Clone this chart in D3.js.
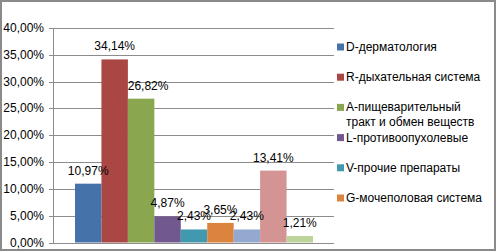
<!DOCTYPE html>
<html>
<head>
<meta charset="utf-8">
<script src="https://cdn.jsdelivr.net/npm/d3@7"></script>
<style>
  body { margin: 0; background: #fff; }
  text { font-family: "Liberation Sans", Arial, sans-serif; font-size: 12px; fill: #000; }
</style>
</head>
<body>
<div id="chart"></div>
<script>
// series (one category, nine series; legend only shows the first six)
const series = ['D', 'R', 'A', 'L', 'V', 'G', 'S7', 'S8', 'S9']
const values = [0.1097, 0.3414, 0.2682, 0.0487, 0.0243, 0.0365, 0.0243, 0.1341, 0.0121]
const colors = ['#4672aa', '#aa4644', '#8aa64f', '#71598f', '#4199b0', '#db843e', '#93a9cf', '#d39493', '#bcd39a']
const legendNames = [
  ['D-дерматология'],
  ['R-дыхательная система'],
  ['A-пищеварительный', 'тракт и обмен веществ'],
  ['L-противоопухолевые'],
  ['V-прочие препараты'],
  ['G-мочеполовая система']
]
const yTicks = [0, 0.05, 0.1, 0.15, 0.2, 0.25, 0.3, 0.35, 0.4]

const width = 497
const height = 252

const ru = d3.formatLocale({ decimal: ',', thousands: ' ', grouping: [3], currency: ['', ''] })
const pct = ru.format('.2%')

let svg = d3.select('#chart')
  .append('svg')
  .attr('width', width)
  .attr('height', height)

// outer frame
svg.append('rect')
  .attr('x', 1).attr('y', 1)
  .attr('width', width - 3).attr('height', height - 3)
  .attr('fill', '#fff')
  .attr('stroke', '#8a8a8a')
  .attr('stroke-width', 2)

const plotLeft = 53
const plotRight = 334

const y = d3.scaleLinear().domain([0, 0.4]).range([242.5, 28])
const x = d3.scaleBand().domain(series).range([75, 313])

// gridlines
svg.selectAll('.grid')
  .data(yTicks)
  .enter()
  .append('line')
  .attr('x1', plotLeft - 4)
  .attr('x2', plotRight)
  .attr('y1', d => Math.round(y(d)) + 0.5)
  .attr('y2', d => Math.round(y(d)) + 0.5)
  .attr('stroke', '#8c8c8c')
  .attr('stroke-width', 1)

// y axis line
svg.append('line')
  .attr('x1', plotLeft + 0.5).attr('x2', plotLeft + 0.5)
  .attr('y1', y(0.4)).attr('y2', y(0) + 0.5)
  .attr('stroke', '#8c8c8c')

svg.selectAll('.ylab')
  .data(yTicks)
  .enter()
  .append('text')
  .attr('x', 44)
  .attr('y', d => y(d) + 4)
  .attr('text-anchor', 'end')
  .text(d => pct(d))

// bars
svg.selectAll('.bar')
  .data(values)
  .enter()
  .append('rect')
  .attr('x', (d, i) => x(series[i]))
  .attr('y', d => y(d))
  .attr('width', x.bandwidth())
  .attr('height', d => y(0) - y(d))
  .attr('fill', (d, i) => colors[i])

// value labels (the green one was nudged right in the original)
const nudge = { 2: 7 }
svg.selectAll('.vlab')
  .data(values)
  .enter()
  .append('text')
  .attr('x', (d, i) => x(series[i]) + x.bandwidth() / 2 + (nudge[i] || 0))
  .attr('y', d => y(d) - 9)
  .attr('text-anchor', 'middle')
  .text(d => pct(d))

// legend
const ly = d3.scalePoint().domain(d3.range(legendNames.length)).range([47, 198])
let legend = svg.selectAll('.leg')
  .data(legendNames)
  .enter()
  .append('g')
  .attr('transform', (d, i) => 'translate(337,' + ly(i) + ')')

legend.append('rect')
  .attr('x', 0).attr('y', -3.5)
  .attr('width', 7).attr('height', 7)
  .attr('fill', (d, i) => colors[i])

legend.append('text')
  .attr('x', 9)
  .attr('y', 4)
  .selectAll('tspan')
  .data(d => d)
  .enter()
  .append('tspan')
  .attr('x', 9)
  .attr('dy', (d, i) => i === 0 ? 0 : 15)
  .text(d => d)
</script>
</body>
</html>
